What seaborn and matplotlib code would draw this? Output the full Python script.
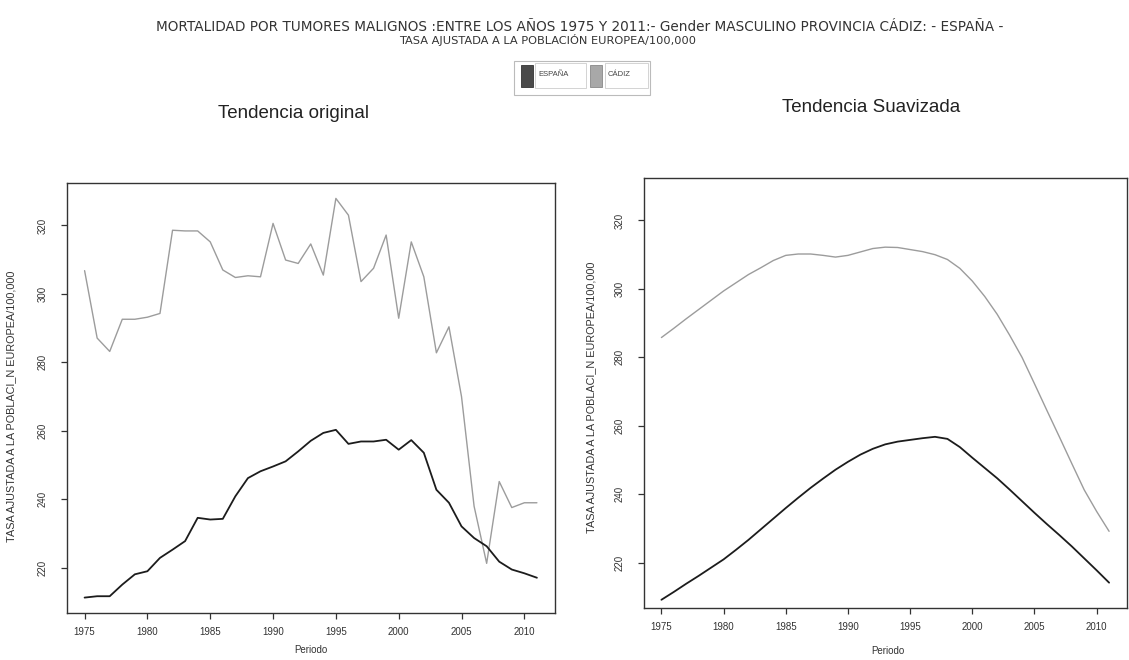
import matplotlib
matplotlib.use("Agg")
import matplotlib.pyplot as plt
import seaborn as sns
import pandas as pd
from matplotlib.patches import Rectangle

years = list(range(1975, 2012))

espana_original = [211.3, 211.7, 211.7, 215.1, 218.1, 219.0, 222.9, 225.3, 227.8, 234.6,
                   234.1, 234.3, 240.9, 246.2, 248.2, 249.6, 251.1, 254.0, 257.1, 259.4,
                   260.3, 256.2, 256.9, 256.9, 257.4, 254.5, 257.3, 253.6, 242.8, 239.0,
                   232.1, 228.7, 226.3, 221.8, 219.5, 218.4, 217.1]

cadiz_original = [306.8, 287.1, 283.2, 292.6, 292.6, 293.2, 294.3, 318.6, 318.4, 318.4,
                  315.2, 307.0, 304.8, 305.3, 305.0, 320.6, 309.9, 308.9, 314.6, 305.5,
                  327.9, 323.0, 303.6, 307.5, 317.2, 292.9, 315.2, 305.0, 282.8, 290.4,
                  270.0, 238.0, 221.3, 245.2, 237.6, 239.0, 239.0]

espana_suavizada = [209.2, 211.5, 213.9, 216.2, 218.6, 221.0, 223.8, 226.7, 229.8, 232.9,
                    236.0, 239.0, 241.9, 244.6, 247.2, 249.5, 251.6, 253.3, 254.6, 255.4,
                    255.9, 256.4, 256.8, 256.2, 253.8, 250.7, 247.7, 244.7, 241.4, 238.0,
                    234.6, 231.3, 228.1, 224.8, 221.3, 217.8, 214.2]

cadiz_suavizada = [285.8, 288.5, 291.3, 294.0, 296.7, 299.4, 301.8, 304.2, 306.2, 308.3,
                   309.8, 310.2, 310.2, 309.8, 309.3, 309.8, 310.8, 311.8, 312.2, 312.1,
                   311.5, 310.9, 310.0, 308.6, 306.0, 302.3, 297.8, 292.6, 286.5, 280.0,
                   272.3, 264.5, 256.8, 249.0, 241.3, 235.0, 229.2]

series_names = ["ESPAÑA", "CÁDIZ"]
line_colors = {"ESPAÑA": "#1c1c1c", "CÁDIZ": "#9c9c9c"}
line_widths = {"ESPAÑA": 1.3, "CÁDIZ": 1.0}
x_ticks = [1975, 1980, 1985, 1990, 1995, 2000, 2005, 2010]
y_ticks = [220, 240, 260, 280, 300, 320]

title_line1 = "MORTALIDAD POR TUMORES MALIGNOS :ENTRE LOS AÑOS 1975 Y 2011:- Gender MASCULINO PROVINCIA CÁDIZ: - ESPAÑA -"
title_line2 = "TASA AJUSTADA A LA POBLACIÓN EUROPEA/100,000"
panel_titles = ["Tendencia original", "Tendencia Suavizada"]
y_label = "TASA AJUSTADA A LA POBLACI_N EUROPEA/100,000"
x_label = "Periodo"

sns.set_theme(style="ticks")
plt.rcParams['font.family'] = ['Liberation Sans', 'DejaVu Sans']

W, H = 1129, 660
fig = plt.figure(figsize=(W / 100, H / 100), dpi=100)
fig.patch.set_facecolor("white")


def frac_box(x0, x1, ytop, ybot):
    return [x0 / W, (H - ybot) / H, (x1 - x0) / W, (ybot - ytop) / H]


ax1 = fig.add_axes(frac_box(67, 555, 183, 613))
ax2 = fig.add_axes(frac_box(644, 1127, 178, 608))


def make_df(esp, cad):
    return pd.DataFrame({
        "year": years * 2,
        "value": list(esp) + list(cad),
        "serie": ["ESPAÑA"] * len(years) + ["CÁDIZ"] * len(years),
    })


def draw(ax, df, ylabel_pos, xlabel_pos):
    for name in ["CÁDIZ", "ESPAÑA"]:
        sub = df[df["serie"] == name]
        sns.lineplot(data=sub, x="year", y="value", ax=ax, color=line_colors[name],
                     linewidth=line_widths[name], legend=False, estimator=None)
    ax.set_xlim(1973.6, 2012.44)
    ax.set_ylim(206.8, 332.4)
    ax.set_xticks(x_ticks)
    ax.set_yticks(y_ticks)
    ax.set_xticklabels([str(t) for t in x_ticks], fontsize=7, color="#333333")
    ax.set_yticklabels([str(t) for t in y_ticks], fontsize=7, color="#333333",
                       rotation=90, va="center")
    ax.tick_params(axis="x", length=4, width=0.9, pad=6, color="#333333")
    ax.tick_params(axis="y", length=4, width=0.9, pad=10, color="#333333")
    ax.set_xlabel(x_label, fontsize=7, color="#333333")
    ax.set_ylabel(y_label, fontsize=7.8, color="#333333")
    ax.yaxis.set_label_coords(*ylabel_pos)
    ax.xaxis.set_label_coords(*xlabel_pos)
    for s in ax.spines.values():
        s.set_color("#333333")
        s.set_linewidth(1.0)
    ax.set_facecolor("white")
    ax.grid(False)


draw(ax1, make_df(espana_original, cadiz_original), (-0.1045, 0.48), (0.5, -0.074))
draw(ax2, make_df(espana_suavizada, cadiz_suavizada), (-0.099, 0.49), (0.505, -0.088))

# Titles
fig.text(580 / W, 1 - 26.7 / H, title_line1, ha="center", va="center", fontsize=9.8,
         color="#333333", family=["DejaVu Sans"])
fig.text(548 / W, 1 - 40 / H, title_line2, ha="center", va="center", fontsize=8.2,
         color="#333333", family=["DejaVu Sans"])
fig.text(294 / W, 1 - 113 / H, panel_titles[0], ha="center", va="center", fontsize=13.5, color="#222222")
fig.text(871 / W, 1 - 108 / H, panel_titles[1], ha="center", va="center", fontsize=13.5, color="#222222")

# Legend (HTML-like boxed entries)
def rect(x0, y0, x1, y1, **kw):
    fig.add_artist(Rectangle((x0 / W, 1 - y1 / H), (x1 - x0) / W, (y1 - y0) / H,
                             transform=fig.transFigure, **kw))

rect(514, 61, 650, 95, facecolor="white", edgecolor="#bbbbbb", linewidth=0.8)
rect(521, 65, 533, 87, facecolor="#4a4a4a", edgecolor="#333333", linewidth=0.6)
rect(535, 63, 586, 88, facecolor="white", edgecolor="#cccccc", linewidth=0.6)
rect(590, 65, 602, 87, facecolor="#a8a8a8", edgecolor="#888888", linewidth=0.6)
rect(605, 63, 648, 88, facecolor="white", edgecolor="#cccccc", linewidth=0.6)
fig.text(538 / W, 1 - 75 / H, series_names[0], ha="left", va="center", fontsize=5.5, color="#444444")
fig.text(608 / W, 1 - 75 / H, series_names[1], ha="left", va="center", fontsize=5.5, color="#444444")

fig.savefig("out.png", dpi=100, facecolor="white")
